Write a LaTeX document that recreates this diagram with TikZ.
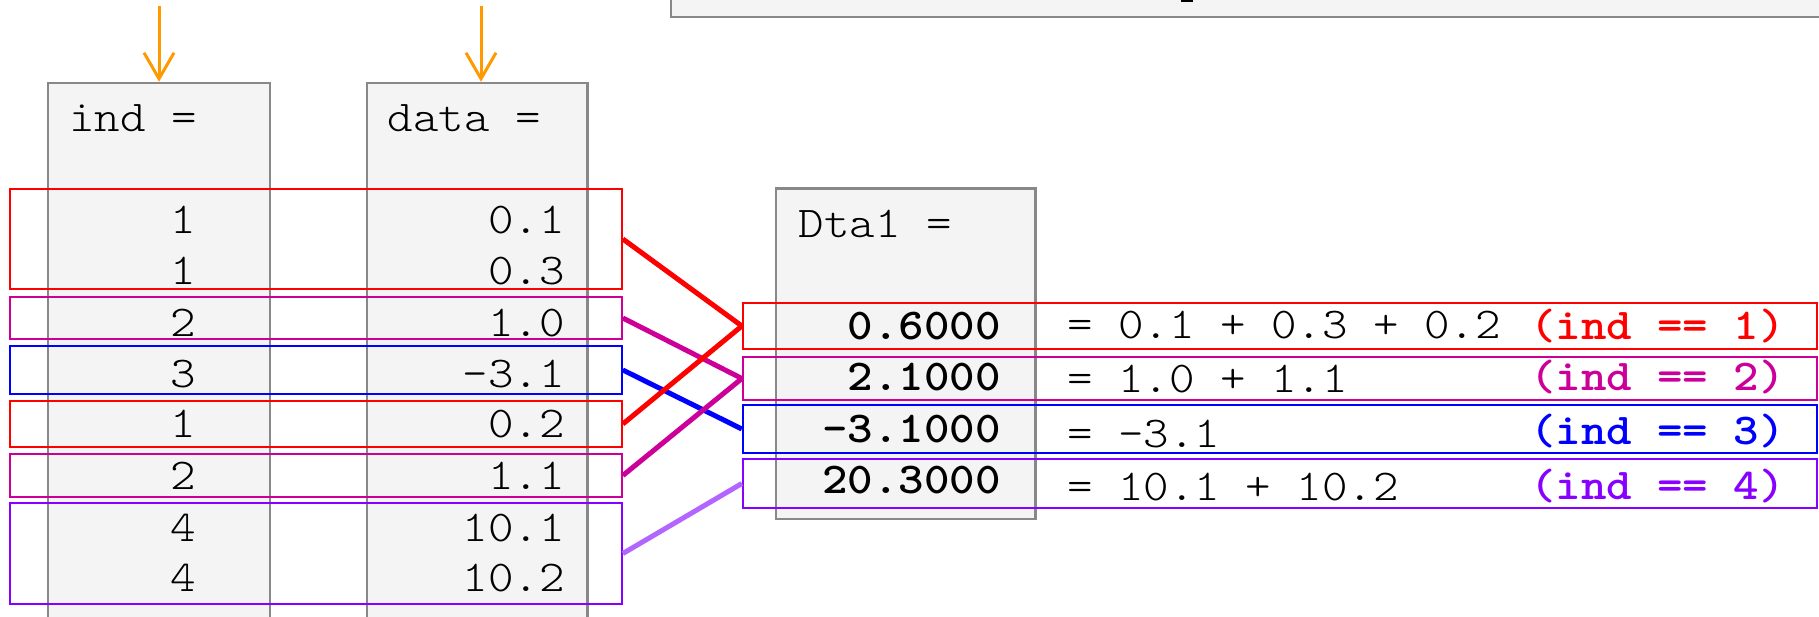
\documentclass[tikz,border=0pt]{standalone}
\usepackage{fontspec}
\usetikzlibrary{arrows.meta,fit}
\newfontfamily\cour{lmmonolt10-regular.otf}[BoldFont=lmmonolt10-bold.otf, FakeStretch=1.104]
\definecolor{cRed}{RGB}{255,0,0}
\definecolor{cMag}{RGB}{204,0,153}
\definecolor{cBlue}{RGB}{0,0,255}
\definecolor{cPur}{RGB}{136,0,255}
\definecolor{cPurL}{RGB}{178,102,255}
\definecolor{cOra}{RGB}{255,153,0}
\definecolor{cGrayB}{RGB}{136,136,136}
\definecolor{cGrayF}{RGB}{244,244,244}
\tikzset{
  colbox/.style={draw=cGrayB, fill=cGrayF, line width=2.5pt, inner sep=0pt},
  rowbox/.style={draw=#1, line width=2.3pt, inner sep=0pt},
  txt/.style={font=\cour\fontsize{44}{50}\selectfont, inner sep=0pt, text=black},
  btxt/.style={font=\cour\bfseries\fontsize{44}{50}\selectfont, inner sep=0pt},
  conn/.style={line width=5pt},
  arr/.style={draw=cOra, line width=3pt, -{Straight Barb[length=26pt,width=30pt]}}
}
\begin{document}
\begin{tikzpicture}[x=1pt,y=-1pt]
\useasboundingbox (0,0) rectangle (1819,616);
\clip (0,0) rectangle (1819,616);
% top box (cut off)
\node[colbox, fit={(671,-30)(1850,17)}] (topbox) {};
\fill[black] (1181,-1) rectangle (1193,2.3);
% columns
\node[colbox, fit={(48,83)(270,650)}] (indcol) {};
\node[colbox, fit={(367,83)(587.5,650)}] (datacol) {};
\node[colbox, fit={(776,188.6)(1035.5,519)}] (dtacol) {};
% arrows
\coordinate (a1s) at (159,6);
\coordinate (a2s) at (481,6);
\draw[arr] (a1s) -- (a1s |- indcol.north);
\draw[arr] (a2s) -- (a2s |- datacol.north);
% headers
\node[txt, anchor=base west] (hind) at (69,131) {ind =};
\node[txt, anchor=base west] (hdata) at (387.5,131) {data =};
\node[txt, anchor=base west] (hdta) at (798.5,237) {Dta1 =};
% ind values
\node[txt, anchor=base east] (i1) at (196,233) {1};
\node[txt, anchor=base east] (i2) at (196,284) {1};
\node[txt, anchor=base east] (i3) at (196,336) {2};
\node[txt, anchor=base east] (i4) at (196,387) {3};
\node[txt, anchor=base east] (i5) at (196,437) {1};
\node[txt, anchor=base east] (i6) at (196,489) {2};
\node[txt, anchor=base east] (i7) at (196,541) {4};
\node[txt, anchor=base east] (i8) at (196,591) {4};
% data values
\node[txt, anchor=base east] (d1) at (565,233) {0.1};
\node[txt, anchor=base east] (d2) at (565,284) {0.3};
\node[txt, anchor=base east] (d3) at (565,336) {1.0};
\node[txt, anchor=base east] (d4) at (565,387) {-3.1};
\node[txt, anchor=base east] (d5) at (565,437) {0.2};
\node[txt, anchor=base east] (d6) at (565,489) {1.1};
\node[txt, anchor=base east] (d7) at (565,541) {10.1};
\node[txt, anchor=base east] (d8) at (565,591) {10.2};
% result values
\node[btxt, anchor=base east] (v1) at (1001,339) {0.6000};
\node[btxt, anchor=base east] (v2) at (1001,390) {2.1000};
\node[btxt, anchor=base east] (v3) at (1001,442) {-3.1000};
\node[btxt, anchor=base east] (v4) at (1001,493) {20.3000};
% equations
\node[txt, anchor=base west] (e1) at (1067,338) {= 0.1 + 0.3 + 0.2};
\node[txt, anchor=base west] (e2) at (1067,392) {= 1.0 + 1.1};
\node[txt, anchor=base west] (e3) at (1067,447) {= -3.1};
\node[txt, anchor=base west] (e4) at (1067,500) {= 10.1 + 10.2};
% conditions
\node[btxt, text=cRed, anchor=base] (c1) at (1657.5,339) {(ind == 1)};
\node[btxt, text=cMag, anchor=base] (c2) at (1657.5,390) {(ind == 2)};
\node[btxt, text=cBlue, anchor=base] (c3) at (1657.5,444) {(ind == 3)};
\node[btxt, text=cPur, anchor=base] (c4) at (1657.5,499) {(ind == 4)};
% left group boxes
\node[rowbox=cRed, fit={(10,189)(621.7,289)}] (L1) {};
\node[rowbox=cMag, fit={(10,297)(621.7,339)}] (L2) {};
\node[rowbox=cBlue, fit={(10,346)(621.7,394)}] (L3) {};
\node[rowbox=cRed, fit={(10,401)(621.7,447)}] (L4) {};
\node[rowbox=cMag, fit={(10,454)(621.7,497)}] (L5) {};
\node[rowbox=cPur, fit={(10,503)(621.7,604)}] (L6) {};
% right result boxes
\node[rowbox=cRed, fit={(743,303)(1817,349)}] (R1) {};
\node[rowbox=cMag, fit={(743,357)(1817,400)}] (R2) {};
\node[rowbox=cBlue, fit={(743,405)(1817,453)}] (R3) {};
\node[rowbox=cPur, fit={(743,459)(1817,508)}] (R4) {};
% connectors
\draw[conn, cRed] (L1.east) -- (R1.west);
\draw[conn, cMag] (L2.east) -- (R2.west);
\draw[conn, cBlue] (L3.east) -- (R3.west);
\draw[conn, cRed] (L4.east) -- (R1.west);
\draw[conn, cMag] (L5.east) -- (R2.west);
\draw[conn, cPurL] (L6.east) -- (R4.west);
\end{tikzpicture}
\end{document}
